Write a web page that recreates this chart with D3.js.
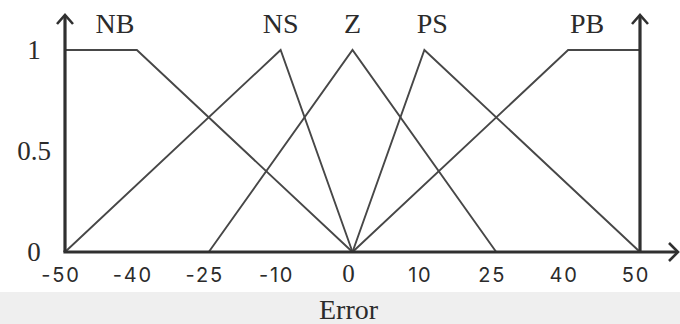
<!DOCTYPE html>
<html>
<head>
<meta charset="utf-8">
<script src="https://cdn.jsdelivr.net/npm/d3@7"></script>
<style>
  html, body { margin: 0; padding: 0; background: #fff; }
  svg { display: block; }
</style>
</head>
<body>
<svg id="chart" width="680" height="324"></svg>
<script>
// Error axis breakpoints (shown as evenly spaced ticks)
const errorTicks = [-50, -40, -25, -10, 0, 10, 25, 40, 50];
const membershipTicks = [0, 0.5, 1];

// Membership functions: breakpoints in error and degree
const setNames = ["NB", "NS", "Z", "PS", "PB"];
const nbError = [-50, -40, 0];
const nbDegree = [1, 1, 0];
const nsError = [-50, -10, 0];
const nsDegree = [0, 1, 0];
const zError = [-25, 0, 25];
const zDegree = [0, 1, 0];
const psError = [0, 10, 50];
const psDegree = [0, 1, 0];
const pbError = [0, 40, 50];
const pbDegree = [0, 1, 1];

const svg = d3.select("#chart");
const W = 680, H = 324;
const plotLeft = 65, plotRight = 640, plotTop = 50, plotBottom = 252;
const serif = "'Liberation Serif', 'Times New Roman', serif";
const textColor = "#2b2b2b";

// footer band behind the axis title
svg.append("rect").attr("x", 0).attr("y", 292).attr("width", W).attr("height", H - 292)
  .attr("fill", "#efefef");

// ticks are equally spaced along the axis, so use a piecewise linear scale
const step = (plotRight - plotLeft) / (errorTicks.length - 1);
const x = d3.scaleLinear()
  .domain(errorTicks)
  .range(errorTicks.map((d, i) => plotLeft + i * step));
const y = d3.scaleLinear().domain([0, 1]).range([plotBottom, plotTop]);

const line = d3.line().x(d => x(d[0])).y(d => y(d[1]));

const sets = [
  { name: setNames[0], e: nbError, m: nbDegree, dx: 14 },
  { name: setNames[1], e: nsError, m: nsDegree, dx: 0 },
  { name: setNames[2], e: zError, m: zDegree, dx: 0 },
  { name: setNames[3], e: psError, m: psDegree, dx: 8 },
  { name: setNames[4], e: pbError, m: pbDegree, dx: -17 }
];

// membership curves
svg.append("g").selectAll("path").data(sets).join("path")
  .attr("d", s => line(d3.zip(s.e, s.m)))
  .attr("fill", "none")
  .attr("stroke", "#474747")
  .attr("stroke-width", 1.9)
  .attr("stroke-linejoin", "miter");

// axes
const ax = svg.append("g").attr("stroke", "#303030").attr("fill", "none")
  .attr("stroke-width", 3.2).attr("stroke-linecap", "butt");
const yTop = 15;
ax.append("line").attr("x1", x(-50)).attr("x2", x(-50)).attr("y1", yTop).attr("y2", y(0));
ax.append("line").attr("x1", x(50)).attr("x2", x(50)).attr("y1", yTop).attr("y2", y(0));
ax.append("line").attr("x1", x(-50) - 1.6).attr("x2", 678).attr("y1", y(0)).attr("y2", y(0));
// arrow heads
const head = d3.line();
ax.append("path").attr("stroke-width", 2.6)
  .attr("d", head([[x(-50) - 8, yTop + 9], [x(-50), yTop], [x(-50) + 8, yTop + 9]]));
ax.append("path").attr("stroke-width", 2.6)
  .attr("d", head([[x(50) - 8, yTop + 9], [x(50), yTop], [x(50) + 8, yTop + 9]]));
ax.append("path").attr("stroke-width", 2.6)
  .attr("d", head([[669, y(0) - 9], [678, y(0)], [669, y(0) + 9]]));

// set names above the curves
const peakOf = s => {
  const i = s.m.indexOf(1);
  const j = s.m.lastIndexOf(1);
  return (x(s.e[i]) + x(s.e[j])) / 2;
};
svg.append("g").selectAll("text").data(sets).join("text")
  .attr("x", s => peakOf(s) + s.dx)
  .attr("y", 33)
  .attr("text-anchor", "middle")
  .attr("font-family", serif)
  .attr("font-size", 28)
  .attr("fill", textColor)
  .text(s => s.name);

// membership tick labels
svg.append("g").selectAll("text").data(membershipTicks).join("text")
  .attr("x", 34)
  .attr("y", d => y(d) + 9)
  .attr("text-anchor", "middle")
  .attr("font-family", serif)
  .attr("font-size", 27)
  .attr("fill", textColor)
  .text(d => d3.format("")(d));

// error tick labels
svg.append("g").selectAll("text").data(errorTicks).join("text")
  .attr("x", d => x(d) - 4)
  .attr("y", 282)
  .attr("text-anchor", "middle")
  .attr("font-family", d => d === 0 ? serif : "Inter, 'DejaVu Sans', sans-serif")
  .attr("font-size", d => d === 0 ? 25 : 20)
  .attr("letter-spacing", d => d === 0 ? 0 : 1.8)
  .attr("fill", textColor)
  .text(d => d);

// axis title
svg.append("text")
  .attr("x", x(0) - 4)
  .attr("y", 319)
  .attr("text-anchor", "middle")
  .attr("font-family", serif)
  .attr("font-size", 28)
  .attr("fill", textColor)
  .text("Error");
</script>
</body>
</html>
